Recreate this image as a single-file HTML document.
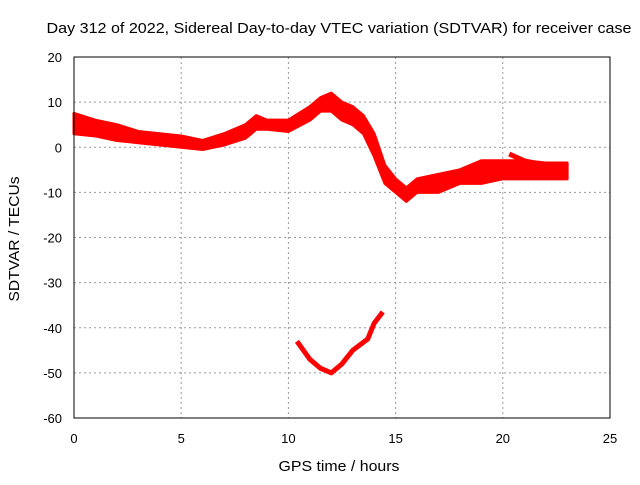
<!DOCTYPE html>
<html><head><meta charset="utf-8"><style>
body{margin:0;background:#fff;width:640px;height:480px;overflow:hidden}
svg{font-family:"Liberation Sans",sans-serif}
</style></head><body>
<svg id="c" width="640" height="480">
<text x="339" y="33" text-anchor="middle" font-size="15" textLength="585" lengthAdjust="spacingAndGlyphs">Day 312 of 2022, Sidereal Day-to-day VTEC variation (SDTVAR) for receiver case</text>
<text x="339" y="471" text-anchor="middle" font-size="15" textLength="121" lengthAdjust="spacingAndGlyphs">GPS time / hours</text>
<text transform="translate(19,239) rotate(-90)" text-anchor="middle" font-size="15" textLength="125" lengthAdjust="spacingAndGlyphs">SDTVAR / TECUs</text>
<g id="grid"></g><g id="marks"></g>
<rect x="74" y="57" width="536" height="361" fill="none" stroke="#000" stroke-width="1"/>
</svg>
<script>
const xTicks=[0,5,10,15,20,25];
const yTicks=[20,10,0,-10,-20,-30,-40,-50,-60];
const bandHours=[0,1,2,3,4,5,6,7,8,8.5,9,10,11,11.5,12,12.5,13,13.5,14,14.5,15,15.5,16,17,18,19,20,21,22,23];
const bandUpper=[7.5,6,5,3.5,3,2.5,1.5,3,5,7,6,6,9,11,12,10,9,7,3,-4,-7,-9,-7,-6,-5,-3,-3,-3,-3.5,-3.5];
const bandLower=[3,2.5,1.5,1,0.5,0,-0.5,0.5,2,4,4,3.5,6,8,8,6,5,3,-2,-8,-10,-12,-10,-10,-8,-8,-7,-7,-7,-7];
const streakHours=[20.3,21,22,22.8];
const streakValues=[-1.5,-3,-4,-4.5];
const arcHours=[10.4,11,11.5,12,12.5,13,13.7,14,14.4];
const arcValues=[-43,-47,-49,-50,-48,-45,-42.5,-39,-36.5];
const NS='http://www.w3.org/2000/svg';
const X=h=>74+h*536/25, Y=v=>57+(20-v)*361/80;
const grid=document.getElementById('grid'), marks=document.getElementById('marks');
function mk(t,a,p){const e=document.createElementNS(NS,t);for(const k in a)e.setAttribute(k,a[k]);p.appendChild(e);return e;}
xTicks.forEach(t=>{
 const l=mk('line',{x1:X(t),x2:X(t),y1:57,y2:418,stroke:'#999','stroke-dasharray':'2,3'},grid);
 
 
 const tx=mk('text',{x:X(t),y:443,'text-anchor':'middle','font-size':13},grid);tx.textContent=t;
 
 
});
yTicks.forEach(t=>{
 const l=mk('line',{x1:74,x2:610,y1:Y(t),y2:Y(t),stroke:'#999','stroke-dasharray':'2,3'},grid);
 
 
 const tx=mk('text',{x:62,y:Y(t)+5,'text-anchor':'end','font-size':13},grid);tx.textContent=t;
 
 
});
let pts=bandHours.map((h,i)=>X(h)+','+Y(bandUpper[i]));
for(let i=bandHours.length-1;i>=0;i--)pts.push(X(bandHours[i])+','+Y(bandLower[i]));
const band=mk('polygon',{points:pts.join(' '),fill:'#f00',stroke:'#f00','stroke-width':3,'stroke-linejoin':'round'},marks);


const streak=mk('polyline',{points:streakHours.map((h,i)=>X(h)+','+Y(streakValues[i])).join(' '),fill:'none',stroke:'#f00','stroke-width':5,'stroke-linejoin':'round'},marks);


const arc=mk('polyline',{points:arcHours.map((h,i)=>X(h)+','+Y(arcValues[i])).join(' '),fill:'none',stroke:'#f00','stroke-width':5,'stroke-linejoin':'round'},marks);


</script>
</body></html>
